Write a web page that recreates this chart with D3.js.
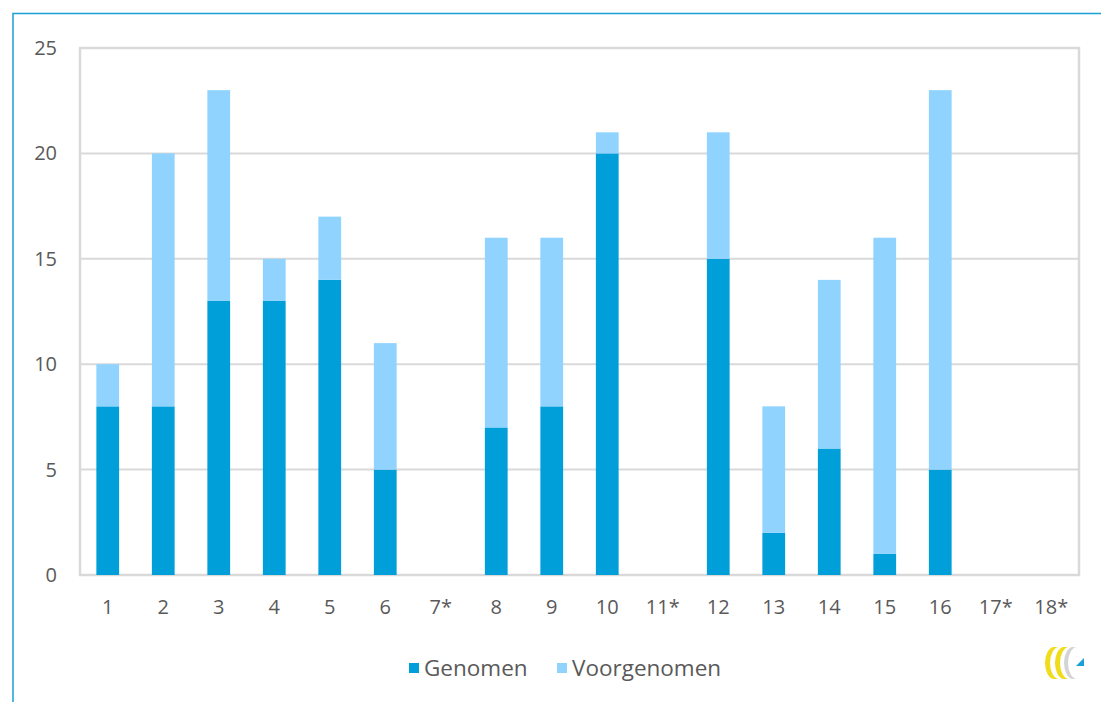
<!DOCTYPE html>
<html lang="en">
<head>
<meta charset="utf-8">
<title>Genomen / Voorgenomen</title>
<style>
  html,body { margin:0; padding:0; background:#fff; }
  svg { display:block; }
  text { font-family: "Open Sans", "DejaVu Sans", sans-serif; fill:#595959; }
</style>
<script src="https://d3js.org/d3.v7.min.js"></script>
</head>
<body>
<svg width="1101" height="702"></svg>
<script>
const categories = ["1","2","3","4","5","6","7*","8","9","10","11*","12","13","14","15","16","17*","18*"];
const genomen     = [8, 8, 13, 13, 14, 5, 0, 7, 8, 20, 0, 15, 2, 6, 1, 5, 0, 0];
const voorgenomen = [2, 12, 10, 2, 3, 6, 0, 9, 8, 1, 0, 6, 6, 8, 15, 18, 0, 0];
const yTicks = [0, 5, 10, 15, 20, 25];
const seriesNames = ["Genomen", "Voorgenomen"];
const colors = ["#009fda", "#8fd3fe"];

const svg = d3.select("svg");

// outer frame (top and left blue lines)
svg.append("path")
  .attr("d", "M13,702 V13.5 H1101")
  .attr("fill", "none")
  .attr("stroke", "#1a9fd8")
  .attr("stroke-width", 1.5);

const m = {left: 80, top: 48, right: 1079, bottom: 575};

const x = d3.scaleBand().domain(categories).range([m.left, m.right]).paddingInner(0.59).paddingOuter(0.295);
const y = d3.scaleLinear().domain([0, 25]).range([m.bottom, m.top]);

// gridlines
svg.append("g").selectAll("line").data(yTicks.slice(1, -1)).enter().append("line")
  .attr("x1", m.left).attr("x2", m.right)
  .attr("y1", d => y(d)).attr("y2", d => y(d))
  .attr("stroke", "#d9d9d9").attr("stroke-width", 2);

// plot border
svg.append("rect")
  .attr("x", m.left).attr("y", m.top)
  .attr("width", m.right - m.left).attr("height", m.bottom - m.top)
  .attr("fill", "none").attr("stroke", "#d9d9d9").attr("stroke-width", 2.5);

// stacked bars
const rows = categories.map((c, i) => ({cat: c, Genomen: genomen[i], Voorgenomen: voorgenomen[i]}));
const stack = d3.stack().keys(seriesNames)(rows);

svg.append("g").selectAll("g").data(stack).enter().append("g")
  .attr("fill", (d, i) => colors[i])
  .selectAll("rect").data(d => d.filter(s => s[1] > s[0])).enter().append("rect")
    .attr("x", d => x(d.data.cat))
    .attr("width", x.bandwidth())
    .attr("y", d => y(d[1]))
    .attr("height", d => y(d[0]) - y(d[1]));

// y tick labels
svg.append("g").selectAll("text").data(yTicks).enter().append("text")
  .attr("x", 57).attr("y", d => y(d))
  .attr("dy", "0.35em")
  .attr("text-anchor", "end")
  .attr("font-size", 20)
  .text(d => d);

// x tick labels
svg.append("g").selectAll("text").data(categories).enter().append("text")
  .attr("x", d => x(d) + x.bandwidth() / 2)
  .attr("y", 607)
  .attr("dy", "0.35em")
  .attr("text-anchor", "middle")
  .attr("font-size", 20)
  .text(d => d);

// legend
const legendPos = [409, 557];
const lg = svg.append("g").selectAll("g").data(seriesNames).enter().append("g")
  .attr("transform", (d, i) => `translate(${legendPos[i]},668)`);
lg.append("rect").attr("x", 0).attr("y", -5).attr("width", 10).attr("height", 10)
  .attr("fill", (d, i) => colors[i]);
lg.append("text").attr("x", 15).attr("dy", "0.35em").attr("font-size", 22.5).text(d => d);

// small logo bottom right
const logo = svg.append("g").attr("transform", "translate(1058,663)");
logo.append("path").attr("d", "M-4,-16 A9,16 0 0,0 -4,16 L1,16 A9,16 0 0,1 1,-16 Z").attr("fill", "#f0dc1a");
logo.append("path").attr("d", "M6,-16 A9,16 0 0,0 6,16 L11,16 A9,16 0 0,1 11,-16 Z").attr("fill", "#f0dc1a");
logo.append("path").attr("d", "M15,-16 A9,16 0 0,0 15,16 L19,16 A9,16 0 0,1 19,-16 Z").attr("fill", "#d4d4d4");
logo.append("path").attr("d", "M18,3 L26,-5 L26,3 Z").attr("fill", "#1a9fd8");
</script>
</body>
</html>
